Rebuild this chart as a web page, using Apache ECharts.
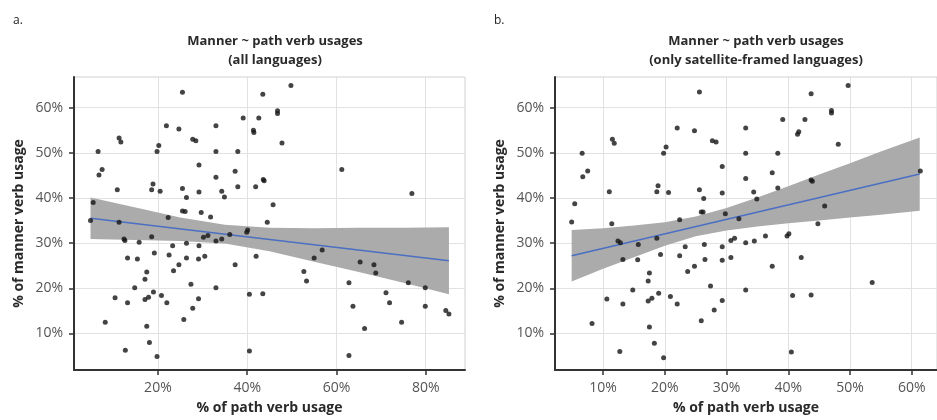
<!DOCTYPE html>
<html>
<head>
<meta charset="utf-8">
<script src="https://cdn.jsdelivr.net/npm/echarts@6/dist/echarts.min.js"></script>
<style>
  html, body { margin: 0; padding: 0; background: #ffffff; }
  #chart { width: 937px; height: 420px; }
</style>
</head>
<body>
<div id="chart"></div>
<script>
// ---------------- Data ----------------
// Panel a: all languages  (% path verb usage, % manner verb usage)
const leftPath = [
  25.5,21.9,24.7,33.0,11.3,11.7,27.8,28.5,20.2,19.8,6.6,33.0,37.9,7.5,6.8,29.2,37.3,33.0,18.9,10.9,
  18.6,20.5,25.5,29.2,34.3,26.4,34.9,37.9,5.5,25.5,26.1,29.7,31.8,22.3,4.9,11.3,36.1,18.6,12.6,12.4,
  15.8,23.3,26.4,29.2,30.2,31.2,33.0,34.3,
  13.2,15.4,19.2,22.5,24.7,23.5,26.4,29.1,30.5,37.3,17.5,17.1,14.8,10.4,13.2,17.1,17.9,19.0,20.8,22.0,
  27.4,29.1,27.8,33.0,25.8,8.2,17.5,18.1,12.7,19.8,
  49.8,43.5,46.8,46.8,39.1,42.6,41.4,41.5,47.8,61.2,41.9,43.6,43.8,45.8,76.9,44.5,39.9,40.1,56.8,42.0,
  55.0,
  52.7,53.3,40.5,43.5,40.5,65.3,68.4,68.8,62.8,63.7,66.3,62.8,71.1,71.9,74.6,76.1,79.9,79.9,84.5,85.2
];
const leftManner = [
  63.4,56.0,55.3,56.0,53.3,52.4,53.0,52.7,51.6,50.3,50.3,50.3,50.3,46.3,45.1,47.3,45.9,44.6,43.1,41.8,
  41.8,41.5,42.1,41.3,41.5,40.1,40.2,42.5,39.0,37.1,37.0,36.8,35.8,35.7,35.0,34.6,31.9,31.4,30.6,30.9,
  30.2,29.4,30.0,29.4,31.3,31.7,30.5,30.9,
  26.7,26.5,27.8,27.4,25.2,23.9,26.7,26.5,27.1,25.2,23.6,22.0,20.1,17.9,16.8,17.5,18.0,19.2,18.4,16.8,
  20.9,17.7,15.6,20.1,13.1,12.5,11.6,8.0,6.3,4.9,
  64.9,63.0,59.3,58.7,57.7,57.7,55.0,54.5,52.2,46.3,42.5,44.1,43.8,38.5,41.0,34.6,32.4,32.9,28.5,27.1,
  26.7,
  23.7,21.6,18.7,18.8,6.1,25.8,25.2,23.4,21.2,16.0,11.1,5.1,19.0,16.8,12.5,21.2,20.1,16.0,15.1,14.3
];
// Panel a: fitted line and confidence band
const leftFitX = [4.9, 85.2];
const leftFitY = [35.5, 26.1];
const leftBandX     = [4.9, 15, 25, 35, 45, 55, 65, 75, 85.2];
const leftBandLower = [30.9, 30.7, 30.5, 29.9, 28.2, 25.9, 23.6, 21.2, 18.7];
const leftBandUpper = [40.1, 37.9, 35.7, 34.1, 33.4, 33.3, 33.4, 33.4, 33.5];

// Panel b: only satellite-framed languages
const rightPath = [
  25.6,22.0,24.8,11.5,11.8,20.2,19.8,6.6,7.5,6.7,18.9,11.0,18.7,20.6,25.6,26.3,5.4,25.9,26.2,22.4,
  4.9,11.4,12.4,12.8,15.7,18.7,23.3,26.4,19.3,22.4,13.2,15.6,17.5,17.3,14.8,10.6,13.2,17.3,17.9,19.0,
  20.9,22.0,23.7,24.8,26.5,27.4,29.3,28.0,29.3,29.3,29.8,30.7,31.3,30.7,32.0,33.1,34.5,36.3,33.1,37.4,
  39.8,40.1,42.1,40.7,43.7,53.6,44.8,45.9,43.7,43.9,61.4,48.1,38.3,37.4,34.4,34.9,33.1,33.1,38.3,29.3,
  29.3,27.7,28.3,49.7,43.7,47.0,47.0,39.1,42.7,41.7,41.5,33.1,25.9,8.2,17.5,18.3,12.7,19.8,40.5
];
const rightManner = [
  63.5,55.5,54.9,53.0,52.1,51.3,49.9,49.9,46.0,44.7,42.7,41.4,41.4,41.2,41.8,39.9,38.7,36.9,36.9,35.2,
  34.7,34.3,30.5,30.1,29.7,31.1,29.2,29.7,27.5,27.2,26.4,26.3,23.4,21.6,19.6,17.6,16.5,17.2,17.8,18.9,
  18.2,16.5,23.7,24.9,26.4,20.5,17.3,15.2,26.2,29.2,36.5,30.6,31.1,26.8,35.4,30.1,30.5,31.6,19.6,24.9,
  31.6,32.1,26.8,18.4,18.5,21.3,34.3,38.2,44.0,43.7,46.0,51.9,42.2,45.6,41.3,39.8,44.3,49.9,49.9,47.0,
  41.1,52.7,52.4,64.9,63.1,59.4,58.8,57.4,57.4,54.7,54.1,55.5,12.8,12.2,11.4,7.8,6.0,4.6,5.9
];
// Panel b: fitted line and confidence band
const rightFitX = [4.9, 61.3];
const rightFitY = [27.2, 45.3];
const rightBandX     = [4.9, 10, 15, 20, 25, 30, 35, 40, 45, 50, 55, 61.3];
const rightBandLower = [21.5, 24.3, 26.9, 29.4, 31.5, 32.8, 33.7, 34.4, 35.0, 35.7, 36.3, 37.2];
const rightBandUpper = [32.9, 33.3, 33.9, 34.6, 35.9, 37.8, 40.1, 42.6, 45.2, 47.7, 50.3, 53.4];

// Tick values
const yTicks = [10, 20, 30, 40, 50, 60];
const leftXTicks = [20, 40, 60, 80];
const rightXTicks = [10, 20, 30, 40, 50, 60];

// Text
const panelLetters = ['a.', 'b.'];
const panelTitles = [
  'Manner ~ path verb usages\n(all languages)',
  'Manner ~ path verb usages\n(only satellite-framed languages)'
];
const xName = '% of path verb usage';
const yName = '% of manner verb usage';

// ---------------- Chart ----------------
const FONT = '"Open Sans", "Noto Sans", sans-serif';
const zip = (a, b) => a.map((v, i) => [v, b[i]]);

function bandSeries(idx, xs, lo, hi) {
  return {
    type: 'custom',
    xAxisIndex: idx, yAxisIndex: idx,
    silent: true, z: 2,
    data: [[xs[0], lo[0]]],
    renderItem: function (params, api) {
      const pts = [];
      for (let i = 0; i < xs.length; i++) pts.push(api.coord([xs[i], hi[i]]));
      for (let i = xs.length - 1; i >= 0; i--) pts.push(api.coord([xs[i], lo[i]]));
      return { type: 'polygon', shape: { points: pts }, style: { fill: '#ababab' } };
    }
  };
}

function xAxis(idx, min, max, ticks) {
  return {
    type: 'value', gridIndex: idx, min: min, max: max,
    name: xName, nameLocation: 'middle', nameGap: 31,
    nameTextStyle: { fontFamily: FONT, fontSize: 14, fontWeight: 'bold', color: '#2a2a2a' },
    axisLine: { show: true, onZero: false, lineStyle: { color: '#333', width: 2 } },
    axisTick: { show: true, length: 5, customValues: ticks, lineStyle: { color: '#333', width: 1.5 } },
    axisLabel: { customValues: ticks, formatter: '{value}%', margin: 11,
      fontFamily: FONT, fontSize: 14, color: '#555' },
    splitLine: { show: true, lineStyle: { color: '#e2e2e2', width: 1 } }
  };
}
function yAxis(idx) {
  return {
    type: 'value', gridIndex: idx, min: 1.9, max: 66.8,
    name: yName, nameLocation: 'middle', nameGap: 48, nameRotate: 90,
    nameTextStyle: { fontFamily: FONT, fontSize: 14, fontWeight: 'bold', color: '#2a2a2a' },
    axisLine: { show: true, onZero: false, lineStyle: { color: '#333', width: 2 } },
    axisTick: { show: true, length: 5, customValues: yTicks, lineStyle: { color: '#333', width: 1.5 } },
    axisLabel: { customValues: yTicks, formatter: '{value}%', margin: 11,
      fontFamily: FONT, fontSize: 14, color: '#555' },
    splitLine: { show: true, lineStyle: { color: '#e2e2e2', width: 1 } }
  };
}

const chart = echarts.init(document.getElementById('chart'), null, { renderer: 'canvas' });
chart.setOption({
  backgroundColor: '#ffffff',
  animation: false,
  title: [
    { text: panelLetters[0], left: 8, top: 10, textStyle: { fontFamily: FONT, fontSize: 12, fontWeight: 'normal', color: '#222' } },
    { text: panelLetters[1], left: 489, top: 10, textStyle: { fontFamily: FONT, fontSize: 12, fontWeight: 'normal', color: '#222' } },
    { text: panelTitles[0], left: 270, top: 27, textAlign: 'center',
      textStyle: { fontFamily: FONT, fontSize: 13, fontWeight: 'bold', color: '#2a2a2a', lineHeight: 19 } },
    { text: panelTitles[1], left: 751, top: 27, textAlign: 'center',
      textStyle: { fontFamily: FONT, fontSize: 13, fontWeight: 'bold', color: '#2a2a2a', lineHeight: 19 } }
  ],
  grid: [
    { left: 74, top: 77, width: 391, height: 295, show: true, borderColor: '#d0d0d0', borderWidth: 1, backgroundColor: '#fff' },
    { left: 555, top: 77, width: 393, height: 295, show: true, borderColor: '#d0d0d0', borderWidth: 1, backgroundColor: '#fff' }
  ],
  xAxis: [ xAxis(0, 1.2, 88.8, leftXTicks), xAxis(1, 2.2, 64.1, rightXTicks) ],
  yAxis: [ yAxis(0), yAxis(1) ],
  series: [
    bandSeries(0, leftBandX, leftBandLower, leftBandUpper),
    bandSeries(1, rightBandX, rightBandLower, rightBandUpper),
    { type: 'line', xAxisIndex: 0, yAxisIndex: 0, data: zip(leftFitX, leftFitY), showSymbol: false, z: 3,
      lineStyle: { color: '#4b6fc2', width: 1.6 } },
    { type: 'line', xAxisIndex: 1, yAxisIndex: 1, data: zip(rightFitX, rightFitY), showSymbol: false, z: 3,
      lineStyle: { color: '#4b6fc2', width: 1.6 } },
    { type: 'scatter', xAxisIndex: 0, yAxisIndex: 0, data: zip(leftPath, leftManner), symbolSize: 5, z: 4,
      itemStyle: { color: '#151515' } },
    { type: 'scatter', xAxisIndex: 1, yAxisIndex: 1, data: zip(rightPath, rightManner), symbolSize: 5, z: 4,
      itemStyle: { color: '#151515' } }
  ]
});
</script>
</body>
</html>
